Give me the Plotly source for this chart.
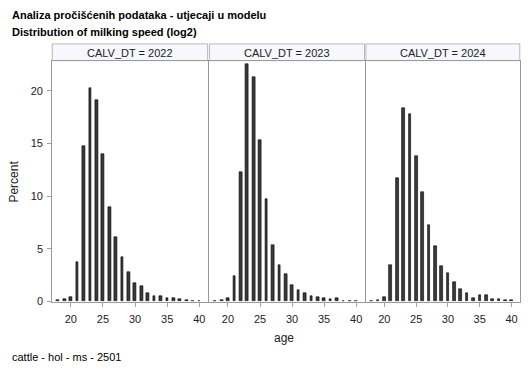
import plotly.graph_objects as go
from plotly.subplots import make_subplots

ages = list(range(18, 41))
years = ["2022", "2023", "2024"]
pct_2022 = [0.10, 0.22, 0.40, 3.77, 14.8, 20.25, 19.16, 14.0, 9.0, 6.1, 4.18, 2.8, 1.72, 1.44,
            0.81, 0.56, 0.53, 0.31, 0.31, 0.19, 0.12, 0.04, 0.04]
pct_2023 = [0.04, 0.15, 0.31, 2.4, 12.3, 22.5, 21.3, 15.3, 9.76, 5.4, 3.43, 2.56, 1.56, 1.06,
            0.81, 0.56, 0.44, 0.31, 0.22, 0.31, 0.04, 0.04, 0.03]
pct_2024 = [0.04, 0.15, 0.44, 3.5, 11.75, 18.4, 17.8, 13.8, 10.4, 7.3, 5.3, 3.4, 2.7, 1.8,
            1.19, 0.78, 0.34, 0.6, 0.62, 0.25, 0.19, 0.12, 0.12]
series = [pct_2022, pct_2023, pct_2024]
x_ticks = [20, 25, 30, 35, 40]
y_ticks = [0, 5, 10, 15, 20]

OFF = 8  # page body margin
W, H = 529 - 2 * OFF, 378 - 2 * OFF
FONT = "Liberation Sans, Arial, sans-serif"

def px_x(p):
    return (p - OFF) / W

def px_y(p):
    return 1 - (p - OFF) / H

panels = [(52.3, 208.0), (209.8, 365.2), (366.6, 520.8)]
plot_top, plot_bot = 62.0, 306.5
strip_top = 44.5

fig = make_subplots(rows=1, cols=3, shared_yaxes=True, horizontal_spacing=0.01)

for i, vals in enumerate(series):
    fig.add_trace(go.Bar(x=ages, y=vals, width=0.42,
                         marker=dict(color="#3a3a3a", line=dict(color="#000000", width=0.6)),
                         showlegend=False, hoverinfo="x+y"),
                  row=1, col=i + 1)

layout_axes = {}
for i, (x0, x1) in enumerate(panels):
    sfx = "" if i == 0 else str(i + 1)
    layout_axes["xaxis" + sfx] = dict(
        domain=[px_x(x0), min(px_x(x1), 1.0)], range=[17.1, 41.3], tickvals=x_ticks,
        ticks="outside", ticklen=4, tickcolor="#a0a0a0", showline=True, mirror=True,
        linecolor="#9a9a9a", linewidth=1, showgrid=False, zeroline=False,
        ticklabelstandoff=3,
        tickfont=dict(family=FONT, size=11, color="#222222"))
    layout_axes["yaxis" + sfx] = dict(
        domain=[px_y(plot_bot), px_y(plot_top)], range=[0, 22.83], tickvals=y_ticks,
        ticks="outside" if i == 0 else "", ticklen=4, tickcolor="#a0a0a0",
        showticklabels=(i == 0), showline=True, mirror=True,
        linecolor="#9a9a9a", linewidth=1, showgrid=False, zeroline=False,
        ticklabelstandoff=2,
        tickfont=dict(family=FONT, size=11, color="#222222"))
fig.update_layout(**layout_axes)

shapes = []
annotations = []
for i, (x0, x1) in enumerate(panels):
    shapes.append(dict(type="rect", xref="paper", yref="paper",
                       x0=px_x(x0), x1=min(px_x(x1), 1.0), y0=px_y(plot_top - 0.5), y1=px_y(strip_top),
                       fillcolor="#f6f8fd", line=dict(color="#b8b8b8", width=1), layer="below"))
    annotations.append(dict(text="CALV_DT = " + years[i], xref="paper", yref="paper",
                            x=px_x((x0 + x1) / 2), y=px_y((strip_top + plot_top) / 2),
                            xanchor="center", yanchor="middle", showarrow=False,
                            font=dict(family=FONT, size=11, color="#222222")))

annotations += [
    dict(text="<b>Analiza pročišćenih podataka - utjecaji u modelu</b>", xref="paper", yref="paper",
         x=px_x(10), y=px_y(15), xanchor="left", yanchor="middle", showarrow=False,
         font=dict(family=FONT, size=11, color="#000000")),
    dict(text="<b>Distribution of milking speed (log2)</b>", xref="paper", yref="paper",
         x=px_x(10), y=px_y(32), xanchor="left", yanchor="middle", showarrow=False,
         font=dict(family=FONT, size=11, color="#000000")),
    dict(text="Percent", xref="paper", yref="paper", x=px_x(14.5), y=px_y(184),
         xanchor="center", yanchor="middle", textangle=-90, showarrow=False,
         font=dict(family=FONT, size=12, color="#222222")),
    dict(text="age", xref="paper", yref="paper", x=px_x(285), y=px_y(344),
         xanchor="center", yanchor="middle", showarrow=False,
         font=dict(family=FONT, size=12, color="#222222")),
    dict(text="cattle - hol - ms - 2501", xref="paper", yref="paper", x=px_x(10), y=px_y(363),
         xanchor="left", yanchor="middle", showarrow=False,
         font=dict(family=FONT, size=11, color="#000000")),
]

fig.update_layout(width=W, height=H, autosize=False,
                  margin=dict(l=0, r=0, t=0, b=0),
                  paper_bgcolor="white", plot_bgcolor="white",
                  bargap=0, shapes=shapes, annotations=annotations,
                  font=dict(family=FONT))

fig.write_html("out.html")
